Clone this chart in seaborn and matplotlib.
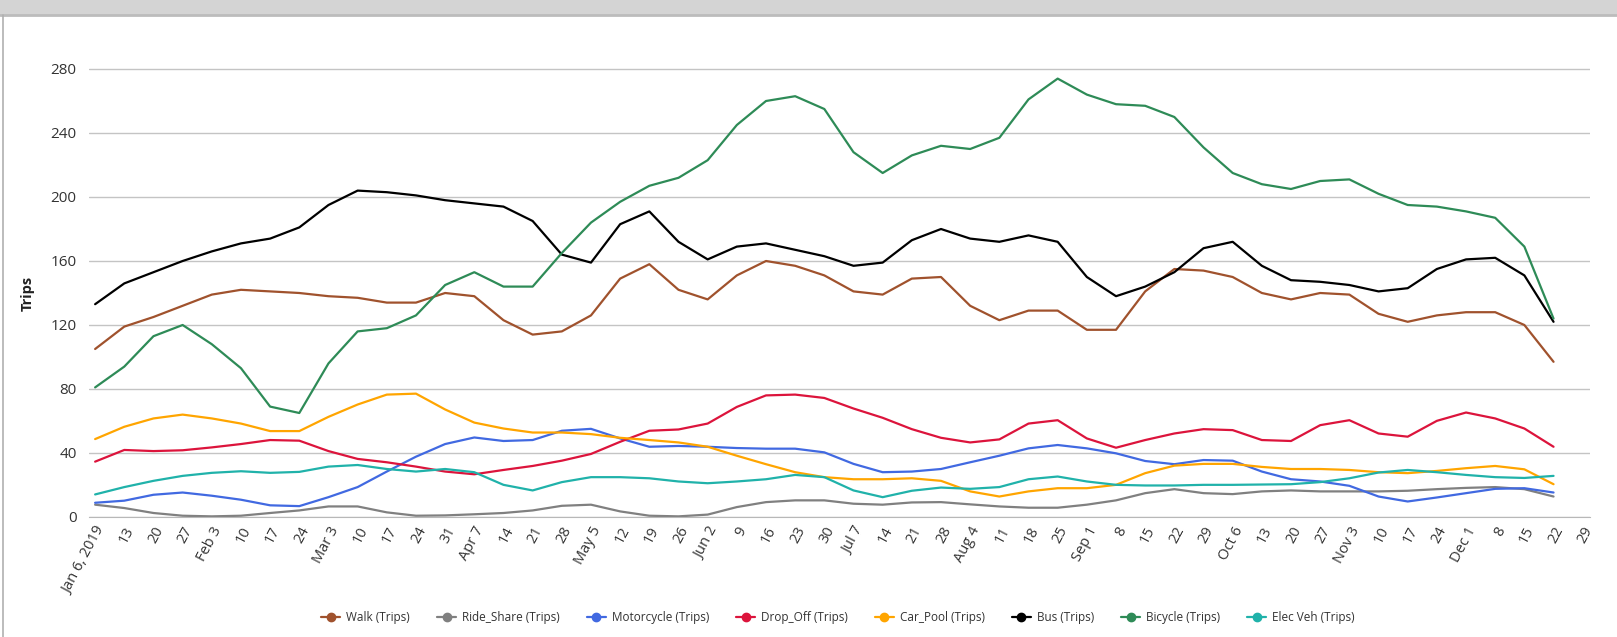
import pandas as pd
import matplotlib.pyplot as plt
import matplotlib.patches as mpatches
from matplotlib.lines import Line2D
import seaborn as sns

# weekly trips, Jan 6 2019 .. Dec 22 2019
weeks = pd.date_range("2019-01-06", "2019-12-22", freq="7D")

walk = [105, 119, 125, 132, 139, 142, 141, 140, 138, 137, 134, 134, 140, 138, 123, 114,
        116, 126, 149, 158, 142, 136, 151, 160, 157, 151, 141, 139, 149, 150, 132, 123,
        129, 129, 117, 117, 141, 155, 154, 150, 140, 136, 140, 139, 127, 122, 126, 128,
        128, 120, 97]
ride_share = [7.7, 5.6, 2.5, 0.8, 0.4, 0.8, 2.5, 4.1, 6.6, 6.6, 2.9, 0.8, 1, 1.7, 2.5, 4.1,
              7, 7.7, 3.5, 0.8, 0.4, 1.5, 6.2, 9.3, 10.4, 10.4, 8.3, 7.7, 9.1, 9.3, 7.9, 6.6,
              5.8, 5.8, 7.7, 10.4, 14.9, 17.4, 14.9, 14.3, 16, 16.6, 16, 16, 16, 16.4, 17.4,
              18.2, 18.7, 17.4, 12.8]
motorcycle = [8.9, 10.2, 13.9, 15.3, 13.3, 10.8, 7.3, 6.8, 12.4, 18.7, 28.4, 37.7, 45.6, 49.7,
              47.5, 48.1, 53.9, 55.1, 49.1, 43.9, 44.4, 43.9, 43.1, 42.7, 42.7, 40.4, 33.2, 28,
              28.4, 30, 34.2, 38.3, 42.9, 45, 42.9, 39.8, 35, 33, 35.6, 35.2, 28.4, 23.6, 22.2,
              19.5, 12.8, 9.7, 12.2, 14.9, 17.6, 18, 15.3]
drop_off = [34.6, 41.9, 41.2, 41.7, 43.5, 45.6, 48.1, 47.7, 41.2, 36.3, 34.2, 31.5, 28.4, 26.7,
            29.4, 31.9, 35.2, 39.4, 47, 53.9, 54.7, 58.4, 68.8, 76, 76.5, 74.4, 67.8, 62, 54.9,
            49.5, 46.6, 48.5, 58.4, 60.5, 49.1, 43.3, 48.1, 52.2, 54.9, 54.3, 48.1, 47.5, 57.4,
            60.5, 52.2, 50.2, 60.1, 65.3, 61.6, 55.3, 43.9]
car_pool = [48.7, 56.4, 61.6, 64, 61.6, 58.4, 53.7, 53.7, 62.6, 70.3, 76.5, 77.1, 67.2, 59,
            55.3, 52.8, 52.8, 51.8, 49.5, 48.1, 46.6, 43.9, 38.3, 33, 28, 24.9, 23.6, 23.6,
            24.2, 22.6, 16, 12.8, 16, 18, 18, 20.1, 27.4, 32.1, 33.2, 33.2, 31.3, 30, 30,
            29.4, 28, 27.4, 28.8, 30.5, 31.9, 29.8, 20.5]
bus = [133, 146, 153, 160, 166, 171, 174, 181, 195, 204, 203, 201, 198, 196, 194, 185,
       164, 159, 183, 191, 172, 161, 169, 171, 167, 163, 157, 159, 173, 180, 174, 172,
       176, 172, 150, 138, 144, 153, 168, 172, 157, 148, 147, 145, 141, 143, 155, 161,
       162, 151, 122]
bicycle = [81, 94, 113, 120, 108, 93, 69, 65, 96, 116, 118, 126, 145, 153, 144, 144,
           165, 184, 197, 207, 212, 223, 245, 260, 263, 255, 228, 215, 226, 232, 230, 237,
           261, 274, 264, 258, 257, 250, 231, 215, 208, 205, 210, 211, 202, 195, 194, 191,
           187, 169, 124]
elec_veh = [14.1, 18.7, 22.6, 25.7, 27.6, 28.6, 27.6, 28.2, 31.5, 32.5, 30, 28.4, 30, 28,
            20.1, 16.6, 21.8, 24.9, 24.9, 24.2, 22.2, 21.1, 22.2, 23.6, 26.3, 24.9, 16.6,
            12.4, 16.4, 18.4, 17.6, 18.7, 23.6, 25.3, 22.2, 20.1, 19.7, 19.7, 20.1, 20.1,
            20.3, 20.5, 21.8, 24.2, 27.8, 29.4, 28, 26.3, 24.9, 24.4, 25.7]

series = {
    "Walk (Trips)": walk,
    "Ride_Share (Trips)": ride_share,
    "Motorcycle (Trips)": motorcycle,
    "Drop_Off (Trips)": drop_off,
    "Car_Pool (Trips)": car_pool,
    "Bus (Trips)": bus,
    "Bicycle (Trips)": bicycle,
    "Elec Veh (Trips)": elec_veh,
}
colors = ["#a0522d", "#808080", "#4169e1", "#dc143c", "#ffa500", "#000000", "#2e8b57", "#20b2aa"]

tick_labels = ["Jan 6, 2019", "13", "20", "27", "Feb 3", "10", "17", "24", "Mar 3", "10", "17",
               "24", "31", "Apr 7", "14", "21", "28", "May 5", "12", "19", "26", "Jun 2", "9",
               "16", "23", "30", "Jul 7", "14", "21", "28", "Aug 4", "11", "18", "25", "Sep 1",
               "8", "15", "22", "29", "Oct 6", "13", "20", "27", "Nov 3", "10", "17", "24",
               "Dec 1", "8", "15", "22", "29"]

rows = []
for name, vals in series.items():
    for i, v in enumerate(vals):
        rows.append({"week": i, "mode": name, "trips": v})
df = pd.DataFrame(rows)

sns.set_style("white")
plt.rcParams["font.family"] = ["Open Sans", "DejaVu Sans"]

W, H = 1617, 637
fig = plt.figure(figsize=(W / 100, H / 100), dpi=100)
ax = fig.add_axes([89 / W, 1 - 517 / H, (1590 - 89) / W, (517 - 37) / H])

sns.lineplot(data=df, x="week", y="trips", hue="mode", palette=colors,
             linewidth=1.6, ax=ax, legend=False)

ax.set_xlim(-0.21, 51.25)
ax.set_ylim(0, 300)
ax.set_yticks(range(0, 281, 40))
ax.set_xticks(range(len(tick_labels)))
ax.set_xticklabels(tick_labels, rotation=62, ha="right", rotation_mode="anchor",
                   fontsize=10.5, color="#333333")
ax.tick_params(axis="y", labelsize=11, colors="#333333", length=0, pad=9)
ax.tick_params(axis="x", length=0, pad=5)
ax.grid(axis="y", color="#c4c4c4", linewidth=1)
ax.set_axisbelow(True)
for s in ["top", "right", "left"]:
    ax.spines[s].set_visible(False)
ax.spines["bottom"].set_color("#b8b8b8")
ax.set_xlabel("")
ax.set_ylabel("Trips", fontsize=10.5, fontweight="bold", color="#222222")
ax.yaxis.set_label_coords((35 - 89) / (1590 - 89), 140 / 300)

# legend
handles = [Line2D([0], [0], color=c, marker="o", markersize=6, linewidth=1.6)
           for c in colors]
fig.legend(handles, list(series.keys()), loc="center", ncol=8, frameon=False,
           bbox_to_anchor=(838 / W, 1 - 618 / H), fontsize=8.5, handlelength=1.6,
           handletextpad=0.5, columnspacing=2.3, labelcolor="#333333")

# page chrome: grey band on top, thin border on the left
fig.patches.append(mpatches.Rectangle((0, 1 - 15 / H), 1, 15 / H, transform=fig.transFigure,
                                      facecolor="#d4d4d4", edgecolor="none"))
fig.lines.append(Line2D([0, 1], [1 - 15 / H, 1 - 15 / H], transform=fig.transFigure,
                        color="#bcbcbc", linewidth=2))
fig.lines.append(Line2D([3 / W, 3 / W], [0, 1 - 15 / H], transform=fig.transFigure,
                        color="#b0b0b0", linewidth=1.2))

fig.savefig("out.png", dpi=100)
